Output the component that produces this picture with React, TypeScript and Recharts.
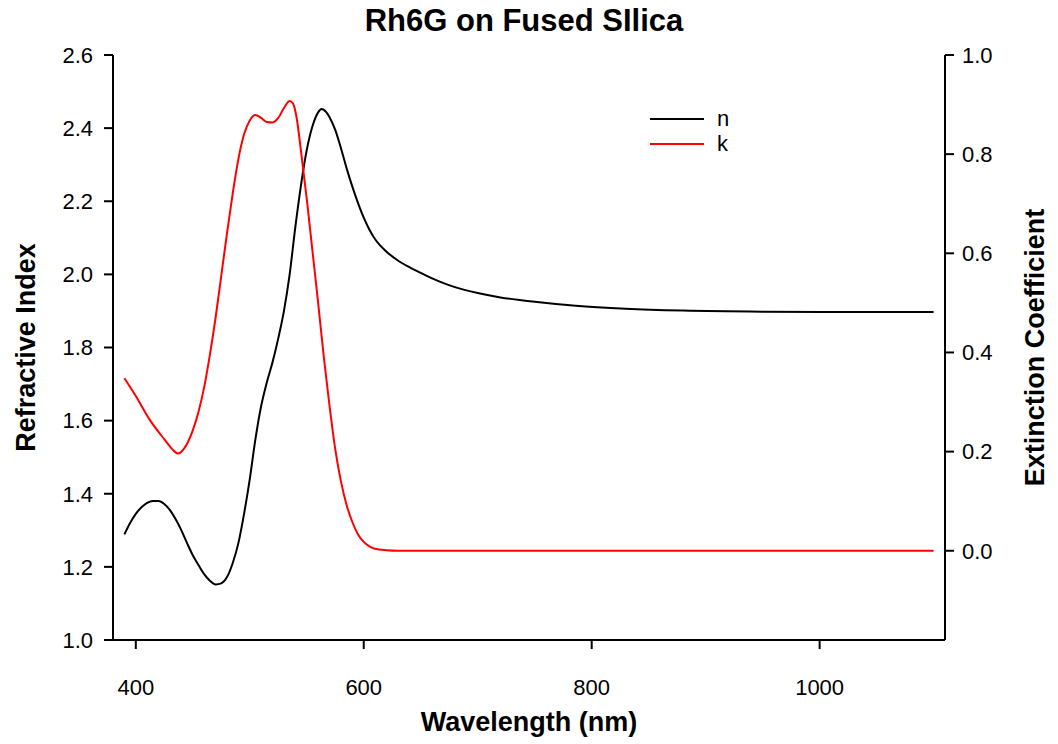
import React from 'react';
import { LineChart, Line, XAxis, YAxis, Legend, Label } from 'recharts';

// refractive index n
const nWavelength = [
  390, 395, 400, 405, 410, 415, 420, 425, 430, 435, 440, 445, 450, 455, 460, 465, 470, 475,
  480, 485, 490, 495, 500, 505, 510, 515, 520, 525, 530, 535, 540, 545, 550, 555, 560, 563,
  565, 570, 575, 580, 585, 590, 595, 600, 605, 610, 620, 630, 640, 650, 660, 670, 680, 700,
  720, 750, 786, 830, 880, 950, 1030, 1100,
];
const nValues = [
  1.289, 1.32, 1.345, 1.363, 1.375, 1.38, 1.38, 1.372, 1.355, 1.33, 1.3, 1.265, 1.232, 1.205,
  1.18, 1.162, 1.152, 1.155, 1.172, 1.21, 1.265, 1.345, 1.44, 1.55, 1.64, 1.705, 1.76, 1.825,
  1.9, 2.0, 2.13, 2.245, 2.34, 2.405, 2.443, 2.452, 2.45, 2.43, 2.395, 2.345, 2.29, 2.24, 2.195,
  2.155, 2.122, 2.096, 2.062, 2.038, 2.02, 2.004, 1.989, 1.976, 1.965, 1.949, 1.937, 1.925, 1.914,
  1.906, 1.901, 1.898, 1.897, 1.897,
];

// extinction coefficient k
const kWavelength = [
  390, 400, 412, 425, 432, 437, 442, 450, 455, 460, 465, 470, 475, 480, 485, 490, 495, 500,
  505, 510, 515, 520, 525, 530, 535, 538, 541, 545, 550, 555, 560, 565, 570, 575, 580, 585,
  590, 595, 600, 605, 610, 620, 630, 660, 700, 800, 900, 1000, 1100,
];
const kValues = [
  0.348, 0.312, 0.265, 0.225, 0.205, 0.196, 0.205, 0.243, 0.28, 0.33, 0.395, 0.47, 0.555, 0.64,
  0.72, 0.79, 0.84, 0.868, 0.879, 0.873, 0.865, 0.864, 0.873, 0.893, 0.907, 0.902, 0.875, 0.805,
  0.71, 0.605, 0.5, 0.39, 0.292, 0.205, 0.14, 0.092, 0.058, 0.033, 0.018, 0.009, 0.004, 0.001,
  0, 0, 0, 0, 0, 0, 0,
];

const xTicks = [400, 600, 800, 1000];
const nTicks = [1.0, 1.2, 1.4, 1.6, 1.8, 2.0, 2.2, 2.4, 2.6];
const kTicks = [0.0, 0.2, 0.4, 0.6, 0.8, 1.0];
const legendOrder = ['n', 'k'];

const nData = nWavelength.map((wl, i) => ({ wl, n: nValues[i] }));
const kData = kWavelength.map((wl, i) => ({ wl, k: kValues[i] }));

const FONT = '"Liberation Sans", Arial, sans-serif';
const tickStyle = { fill: '#000', fontSize: 22, fontFamily: FONT };
const axisStroke = { stroke: '#000', strokeWidth: 2 };
const titleStyle = { fontFamily: FONT, fontWeight: 'bold', fontSize: 27, fill: '#000' };

function LegendBox({ payload }: any) {
  const items = [...(payload || [])].sort(
    (a: any, b: any) => legendOrder.indexOf(a.value) - legendOrder.indexOf(b.value)
  );
  return (
    <div style={{ fontFamily: FONT, fontSize: 22, lineHeight: '25px' }}>
      {items.map((p: any) => (
        <div key={p.value} style={{ display: 'flex', alignItems: 'center' }}>
          <svg width={54} height={4} style={{ marginRight: 13 }}>
            <line x1={0} y1={2} x2={54} y2={2} stroke={p.color} strokeWidth={2} />
          </svg>
          <span>{p.value}</span>
        </div>
      ))}
    </div>
  );
}

export default function App() {
  return (
    <div style={{ position: 'fixed', left: 0, top: 0, width: 1058, height: 744, background: '#fff' }}>
      <div
        style={{
          position: 'absolute',
          left: 0,
          width: 1048,
          top: 3,
          textAlign: 'center',
          fontFamily: FONT,
          fontWeight: 'bold',
          fontSize: 31,
        }}
      >
        Rh6G on Fused SIlica
      </div>
      <LineChart width={1058} height={744} margin={{ top: 55, right: 0, bottom: 0, left: 0 }}>
        <XAxis
          dataKey="wl"
          type="number"
          domain={[380, 1110]}
          ticks={xTicks}
          allowDataOverflow
          tick={tickStyle}
          tickSize={9}
          tickMargin={30}
          height={104}
          axisLine={axisStroke}
          tickLine={axisStroke}
        >
          <Label value="Wavelength (nm)" position="center" dy={29} style={titleStyle} />
        </XAxis>
        <XAxis
          xAxisId="top"
          orientation="top"
          type="number"
          domain={[380, 1110]}
          height={0}
          tick={false}
          tickLine={false}
          axisLine={axisStroke}
        />
        <YAxis
          yAxisId="n"
          type="number"
          domain={[1.0, 2.6]}
          ticks={nTicks}
          tickFormatter={(v: number) => v.toFixed(1)}
          width={113}
          tick={tickStyle}
          tickSize={9}
          tickMargin={11}
          axisLine={axisStroke}
          tickLine={axisStroke}
        >
          <Label
            value="Refractive Index"
            angle={-90}
            position="center"
            dx={-31}
            style={{ ...titleStyle, textAnchor: 'middle' }}
          />
        </YAxis>
        <YAxis
          yAxisId="k"
          orientation="right"
          type="number"
          domain={[-0.18, 1.0]}
          ticks={kTicks}
          tickFormatter={(v: number) => v.toFixed(1)}
          width={113}
          tick={tickStyle}
          tickSize={9}
          tickMargin={8}
          axisLine={axisStroke}
          tickLine={axisStroke}
        >
          <Label
            value="Extinction Coefficient"
            angle={-90}
            position="center"
            dx={33}
            style={{ ...titleStyle, textAnchor: 'middle' }}
          />
        </YAxis>
        <Legend
          layout="vertical"
          align="center"
          verticalAlign="middle"
          content={<LegendBox />}
          wrapperStyle={{ position: 'absolute', left: 650, top: 106, width: 120 }}
        />
        <Line
          yAxisId="n"
          data={nData}
          dataKey="n"
          name="n"
          type="monotone"
          stroke="#000000"
          strokeWidth={2}
          dot={false}
          isAnimationActive={false}
        />
        <Line
          yAxisId="k"
          data={kData}
          dataKey="k"
          name="k"
          type="monotone"
          stroke="#ff0000"
          strokeWidth={2}
          dot={false}
          isAnimationActive={false}
        />
      </LineChart>
    </div>
  );
}
